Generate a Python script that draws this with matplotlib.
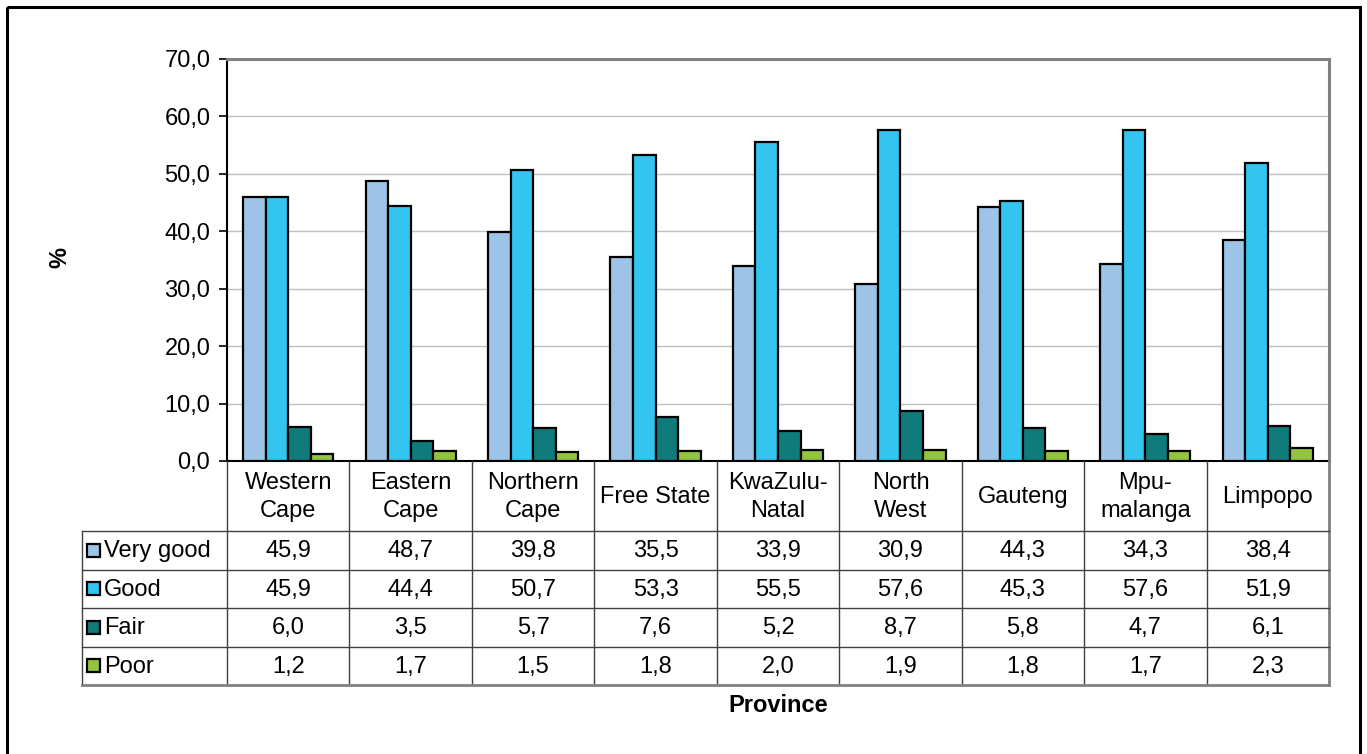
import matplotlib
matplotlib.use("Agg")
import matplotlib.pyplot as plt
from matplotlib.patches import Rectangle
from matplotlib.ticker import FuncFormatter, MultipleLocator
import numpy as np

plt.rcParams['font.family'] = ['Liberation Sans', 'DejaVu Sans']

provinces = ["Western\nCape", "Eastern\nCape", "Northern\nCape", "Free State", "KwaZulu-\nNatal",
             "North\nWest", "Gauteng", "Mpu-\nmalanga", "Limpopo"]
series_names = ["Very good", "Good", "Fair", "Poor"]
very_good = [45.9, 48.7, 39.8, 35.5, 33.9, 30.9, 44.3, 34.3, 38.4]
good = [45.9, 44.4, 50.7, 53.3, 55.5, 57.6, 45.3, 57.6, 51.9]
fair = [6.0, 3.5, 5.7, 7.6, 5.2, 8.7, 5.8, 4.7, 6.1]
poor = [1.2, 1.7, 1.5, 1.8, 2.0, 1.9, 1.8, 1.7, 2.3]
colors = ["#9DC3E6", "#33C4EF", "#0F7B7A", "#93C43D"]

FS = 17
W, H = 1367, 754
fig = plt.figure(figsize=(W / 100, H / 100), dpi=100)

# plot area in pixels
px_l, px_r, px_t, px_b = 227, 1329, 59, 461
ax = fig.add_axes([px_l / W, 1 - px_b / H, (px_r - px_l) / W, (px_b - px_t) / H])

data = [very_good, good, fair, poor]
n = len(provinces)
x = np.arange(n)
bw = 0.184
for i, (vals, c) in enumerate(zip(data, colors)):
    ax.bar(x + (i - 1.5) * bw, vals, bw, color=c, edgecolor="black", linewidth=1.6, zorder=3)

ax.set_xlim(-0.5, n - 0.5)
ax.set_ylim(0, 70)
ax.yaxis.set_major_locator(MultipleLocator(10))
ax.yaxis.set_major_formatter(FuncFormatter(lambda v, p: f"{v:.1f}".replace(".", ",")))
ax.grid(axis="y", color="#C0C0C0", linewidth=1.0, zorder=0)
ax.set_xticks([])
ax.tick_params(axis="y", labelsize=FS, length=6, width=1.2, direction="out", pad=6)
for s in ["top", "right"]:
    ax.spines[s].set_color("#808080")
    ax.spines[s].set_linewidth(2.2)
ax.spines["left"].set_color("black")
ax.spines["left"].set_linewidth(1.5)
ax.spines["bottom"].set_color("black")
ax.spines["bottom"].set_linewidth(1.5)

# overlay for table (pixel coordinates)
ov = fig.add_axes([0, 0, 1, 1])
ov.set_xlim(0, W)
ov.set_ylim(H, 0)
ov.axis("off")
ov.patch.set_alpha(0)

ov.text(60, 258, "%", rotation=90, ha="center", va="center", fontsize=FS, fontweight="bold")

colw = (px_r - px_l) / n
leg_l = 82
row_edges = [461, 531, 569.5, 608, 646.5, 685]
lc = "#404040"
# vertical lines
for i in range(n + 1):
    xv = px_l + i * colw
    col = "#808080" if i == n else lc
    lw = 2.0 if i == n else 1.0
    ov.plot([xv, xv], [row_edges[0], row_edges[-1]], color=col, lw=lw)
ov.plot([leg_l, leg_l], [row_edges[1], row_edges[-1]], color=lc, lw=1.0)
# horizontal lines
for j, yv in enumerate(row_edges[1:], start=1):
    col = "#808080" if j == len(row_edges) - 1 else lc
    lw = 2.0 if j == len(row_edges) - 1 else 1.0
    ov.plot([leg_l, px_r], [yv, yv], color=col, lw=lw)

# header text
for i, p in enumerate(provinces):
    ov.text(px_l + (i + 0.5) * colw, (row_edges[0] + row_edges[1]) / 2 + 1, p,
            ha="center", va="center", fontsize=FS, linespacing=1.32)

# rows
for j, (name, vals, c) in enumerate(zip(series_names, data, colors)):
    yc = (row_edges[j + 1] + row_edges[j + 2]) / 2
    ov.add_patch(Rectangle((87, yc - 6.5), 13, 13, facecolor=c, edgecolor="black", lw=1.6))
    ov.text(104, yc + 1, name, ha="left", va="center", fontsize=FS)
    for i, v in enumerate(vals):
        ov.text(px_l + (i + 0.5) * colw, yc + 1, f"{v:.1f}".replace(".", ","),
                ha="center", va="center", fontsize=FS)

ov.text(778, 705, "Province", ha="center", va="center", fontsize=FS, fontweight="bold")

# outer border
ov.add_patch(Rectangle((7, 7), 1353, 760, fill=False, edgecolor="black", lw=2.2, clip_on=False))

fig.savefig("out.png", dpi=100)
